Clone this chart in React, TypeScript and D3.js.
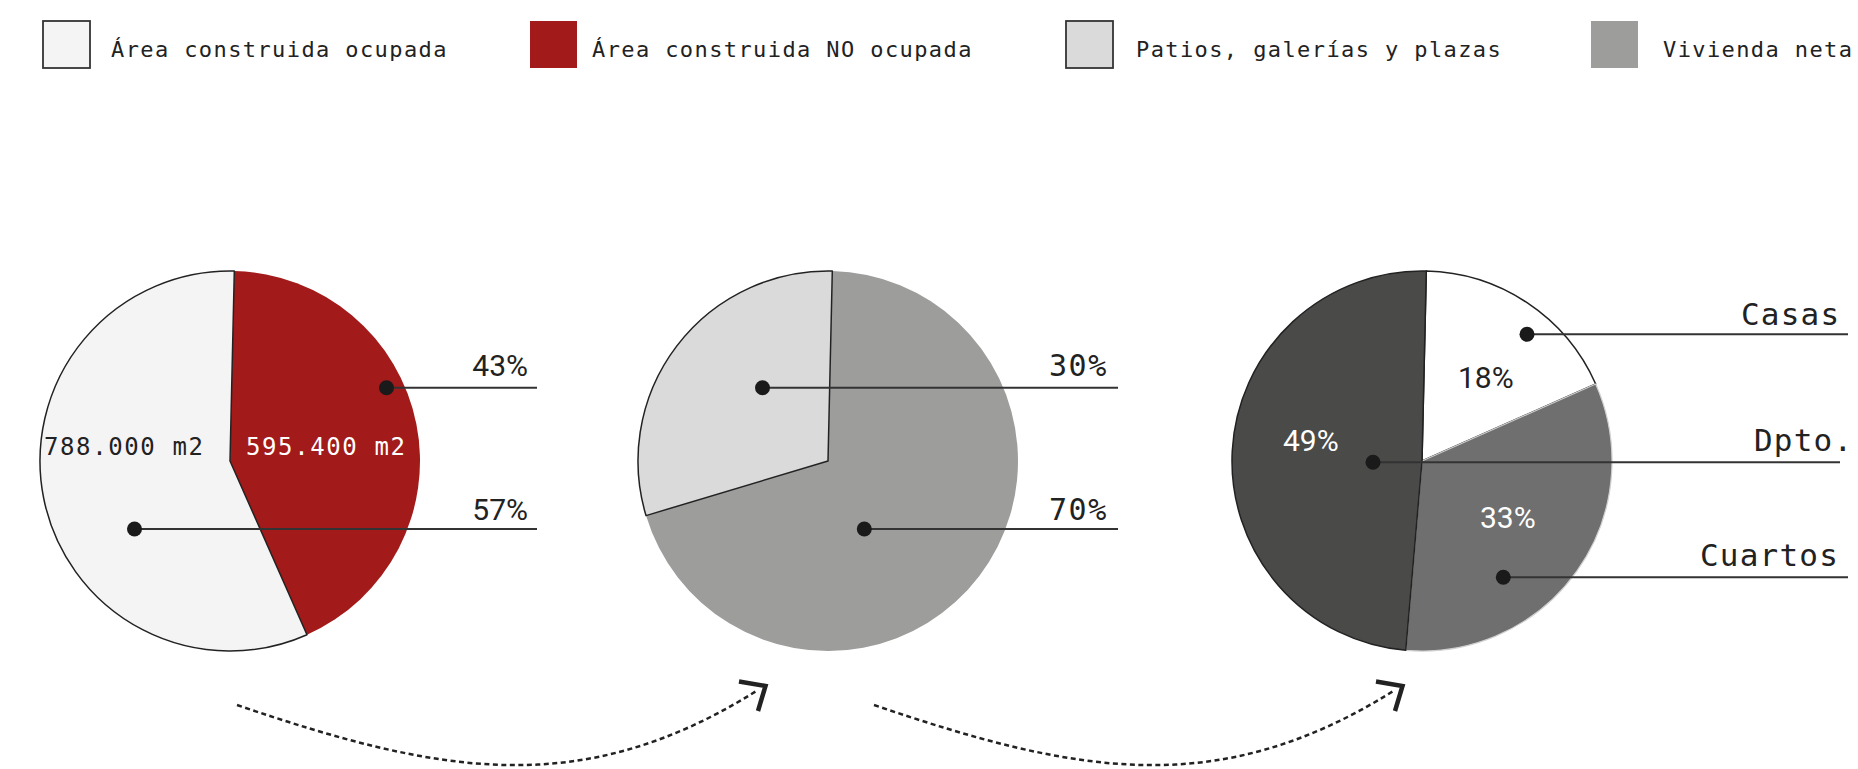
import React from "react";
import * as d3 from "d3";

// ---- data ----
const legendLabels = ["Área construida ocupada", "Área construida NO ocupada", "Patios, galerías y plazas", "Vivienda neta"];
const legendColors = ["#f4f4f4", "#a21a1a", "#dadada", "#9d9d9c"];
const legendStroked = [true, false, true, false];

const pie1Names = ["Área construida NO ocupada", "Área construida ocupada"];
const pie1Values = [43, 57];
const pie1Colors = ["#a21a1a", "#f4f4f4"];
const pie1Areas = ["595.400 m2", "788.000 m2"];

const pie2Names = ["Vivienda neta", "Patios, galerías y plazas"];
const pie2Values = [70, 30];
const pie2Colors = ["#9d9d9c", "#dadada"];

const pie3Names = ["Casas", "Cuartos", "Dpto."];
const pie3Values = [18, 33, 49];
const pie3Colors = ["#ffffff", "#6f6f6f", "#4a4a48"];

const W = 1858;
const H = 769;
const R = 190;
const CY = 461;
const centersX = [230, 828, 1422];
const OFFSET = (1.3 * Math.PI) / 180;

const MONO = "'DejaVu Sans Mono', 'Liberation Mono', monospace";
const SANS = "Roboto, 'Noto Sans', sans-serif";
const INK = "#222";

type Slice = { name: string; value: number; color: string; stroke: string; sw: number };

function Pie({ cx, slices }: { cx: number; slices: Slice[] }) {
  const pie = d3
    .pie<Slice>()
    .sort(null)
    .value((d) => d.value)
    .startAngle(OFFSET)
    .endAngle(OFFSET + 2 * Math.PI);
  const arc = d3.arc<d3.PieArcDatum<Slice>>().innerRadius(0).outerRadius(R);
  const arcs = pie(slices);
  return (
    <g transform={`translate(${cx},${CY})`}>
      {arcs.map((a, i) => (
        <path key={i} d={arc(a) || ""} fill={a.data.color} stroke={a.data.stroke} strokeWidth={a.data.sw} strokeLinejoin="round" />
      ))}
    </g>
  );
}

function Leader({ x1, y, x2 }: { x1: number; y: number; x2: number }) {
  return (
    <g>
      <line x1={x1} y1={y} x2={x2} y2={y} stroke="#333" strokeWidth={2} />
      <circle cx={x1} cy={y} r={7.5} fill="#1a1a1a" />
    </g>
  );
}

function Arrow({ dx }: { dx: number }) {
  const p = d3.path();
  p.moveTo(237 + dx, 705);
  p.bezierCurveTo(437 + dx, 773, 580 + dx, 802, 758 + dx, 690);
  const head = d3.line()([
    [739 + dx, 681.5],
    [765.5 + dx, 686],
    [758 + dx, 711],
  ]);
  return (
    <g>
      <path d={p.toString()} fill="none" stroke={INK} strokeWidth={2.5} strokeDasharray="5 3.5" />
      <path d={head || ""} fill="none" stroke={INK} strokeWidth={4.5} strokeLinejoin="miter" />
    </g>
  );
}

export default function App() {
  const legendX = [43, 530, 1066, 1591];
  const legendTextX = [111, 592, 1136, 1663];

  const s1: Slice[] = pie1Names.map((n, i) => ({
    name: n,
    value: pie1Values[i],
    color: pie1Colors[i],
    stroke: i === 1 ? "#222" : "none",
    sw: 1.5,
  }));
  const s2: Slice[] = pie2Names.map((n, i) => ({
    name: n,
    value: pie2Values[i],
    color: pie2Colors[i],
    stroke: i === 1 ? "#222" : "none",
    sw: 1.5,
  }));
  const s3: Slice[] = pie3Names.map((n, i) => ({
    name: n,
    value: pie3Values[i],
    color: pie3Colors[i],
    stroke: i === 1 ? "#d0d0d0" : "#222",
    sw: i === 1 ? 1.2 : 1.5,
  }));

  return (
    <svg
      width={W}
      height={H}
      style={{ position: "absolute", left: 0, top: 0, background: "#fff" }}
      xmlns="http://www.w3.org/2000/svg"
    >
      <rect x={0} y={0} width={W} height={H} fill="#fff" />
      {/* legend */}
      {legendLabels.map((l, i) => (
        <g key={i}>
          <rect
            x={legendX[i]}
            y={21}
            width={47}
            height={47}
            fill={legendColors[i]}
            stroke={legendStroked[i] ? "#333" : "none"}
            strokeWidth={1.8}
          />
          <text x={legendTextX[i]} y={56.5} fontFamily={MONO} fontSize={22} letterSpacing={1.4} fill={INK}>
            {l}
          </text>
        </g>
      ))}

      {/* pies */}
      <Pie cx={centersX[0]} slices={s1} />
      <Pie cx={centersX[1]} slices={s2} />
      <Pie cx={centersX[2]} slices={s3} />

      {/* pie 1 labels */}
      <text x={44} y={455} fontFamily={MONO} fontSize={24} letterSpacing={1.6} fill={INK}>
        {pie1Areas[1]}
      </text>
      <text x={246} y={455} fontFamily={MONO} fontSize={24} letterSpacing={1.6} fill="#fff">
        {pie1Areas[0]}
      </text>
      <Leader x1={386.5} y={387.7} x2={537} />
      <Leader x1={134.5} y={529} x2={537} />
      <text x={528} y={376} textAnchor="end" fontFamily={SANS} fontSize={30} fill={INK}>
        {pie1Values[0]}%
      </text>
      <text x={528} y={520} textAnchor="end" fontFamily={SANS} fontSize={30} fill={INK}>
        {pie1Values[1]}%
      </text>

      {/* pie 2 labels */}
      <Leader x1={762.5} y={387.7} x2={1118} />
      <Leader x1={864.3} y={529} x2={1118} />
      <text x={1049} y={376} fontFamily={MONO} fontSize={30} letterSpacing={1.5} fill={INK}>
        {pie2Values[1]}%
      </text>
      <text x={1049} y={520} fontFamily={MONO} fontSize={30} letterSpacing={1.5} fill={INK}>
        {pie2Values[0]}%
      </text>

      {/* pie 3 labels */}
      <Leader x1={1527} y={334.3} x2={1848} />
      <Leader x1={1373} y={462.3} x2={1840} />
      <Leader x1={1503.3} y={577.3} x2={1848} />
      <text x={1741} y={325} fontFamily={MONO} fontSize={31} letterSpacing={1.2} fill={INK}>
        {pie3Names[0]}
      </text>
      <text x={1754} y={451} fontFamily={MONO} fontSize={31} letterSpacing={1.2} fill={INK}>
        {pie3Names[2]}
      </text>
      <text x={1700} y={565.7} fontFamily={MONO} fontSize={31} letterSpacing={1.2} fill={INK}>
        {pie3Names[1]}
      </text>
      <text x={1458} y={387.5} fontFamily={SANS} fontSize={30} fill={INK}>
        {pie3Values[0]}%
      </text>
      <text x={1283} y={451} fontFamily={SANS} fontSize={30} fill="#fff">
        {pie3Values[2]}%
      </text>
      <text x={1480} y={528.3} fontFamily={SANS} fontSize={30} fill="#fff">
        {pie3Values[1]}%
      </text>

      {/* arrows */}
      <Arrow dx={0} />
      <Arrow dx={637} />
    </svg>
  );
}
